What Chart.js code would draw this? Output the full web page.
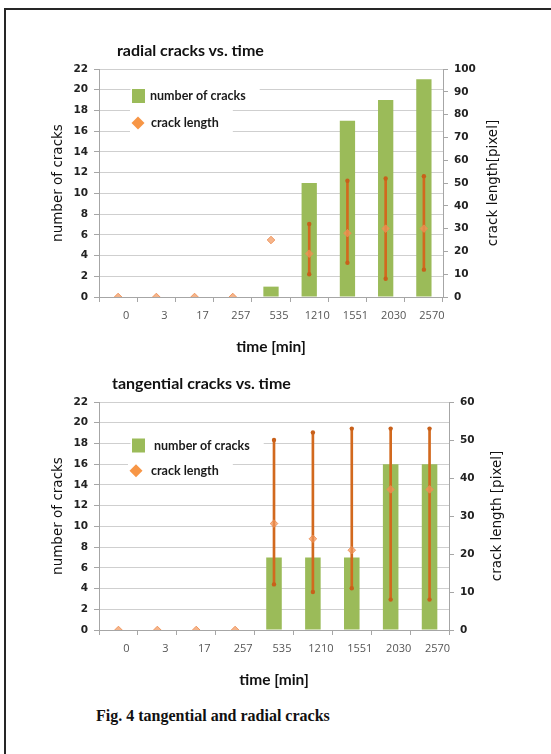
<!DOCTYPE html>
<html>
<head>
<meta charset="utf-8">
<script src="https://cdn.jsdelivr.net/npm/chart.js@4.4.0/dist/chart.umd.min.js"></script>
<style>
  body { margin: 0; background: #fff; width: 551px; height: 754px; overflow: hidden; position: relative; }
  .frame { position: absolute; left: 4px; top: 8px; width: 640px; height: 820px; border: 2px solid #262626; }
  canvas { position: absolute; left: 0; }
  #radial { top: 30px; }
  #tangential { top: 370px; }
  .title { position: absolute; font: bold 16px Lato; color: #111; white-space: nowrap; line-height: 18px; }
  .caption { position: absolute; left: 96px; top: 706px; font: bold 16px "Liberation Serif"; color: #111; white-space: nowrap; line-height: 19px; }
</style>
</head>
<body>
<div class="frame"></div>
<canvas id="radial" width="551" height="330"></canvas>
<canvas id="tangential" width="551" height="323"></canvas>
<div class="title" style="left:117px;top:41px;">radial cracks vs. time</div>
<div class="title" style="left:112px;top:374px;">tangential cracks vs. time</div>
<div class="caption">Fig. 4 tangential and radial cracks</div>

<script>
const times = ["0", "3", "17", "257", "535", "1210", "1551", "2030", "2570"];

const radialCount = [0, 0, 0, 0, 1, 11, 17, 19, 21];
const radialLength = [0, 0, 0, 0, 25, 19, 28, 30, 30];
const radialLengthMax = [null, null, null, null, null, 32, 51, 52, 53];
const radialLengthMin = [null, null, null, null, null, 10, 15, 8, 12];

const tangCount = [0, 0, 0, 0, 7, 7, 7, 16, 16];
const tangLength = [0, 0, 0, 0, 28, 24, 21, 37, 37];
const tangLengthMax = [null, null, null, null, 50, 52, 53, 53, 53];
const tangLengthMin = [null, null, null, null, 12, 10, 11, 8, 8];

const GREEN = "#9BBB59";
const ORANGE = "#F79646";
const ERR = "#D2691E";
const AXIS = "#a6a6a6";
const GRID = "#cfcfcf";

// legend drawn inside the plot, with white boxes hiding the grid behind it
const boxLegend = {
  id: "boxLegend",
  beforeDatasetsDraw(chart, args, opts) {
    const { ctx, chartArea } = chart;
    ctx.save();
    ctx.font = "bold 12.5px Lato";
    ctx.textBaseline = "middle";
    opts.items.forEach((it) => {
      const x = chartArea.left + it.dx;
      const y = chartArea.top + it.dy;
      const tx = chartArea.left + it.tdx;
      const w = ctx.measureText(it.text).width;
      ctx.fillStyle = "#fff";
      ctx.fillRect(x - 8, y - 13, tx - x + 8 + w + 14, 26);
      ctx.fillStyle = it.color;
      if (it.kind === "box") {
        ctx.fillRect(x - 6.5, y - 7, 13, 14);
      } else {
        ctx.beginPath();
        ctx.moveTo(x, y - 6.5);
        ctx.lineTo(x + 6.5, y);
        ctx.lineTo(x, y + 6.5);
        ctx.lineTo(x - 6.5, y);
        ctx.closePath();
        ctx.fill();
      }
      ctx.fillStyle = "#1a1a1a";
      ctx.fillText(it.text, tx, y);
    });
    ctx.restore();
  },
  afterDraw(chart, args, opts) {
    // right axis title reads bottom-to-top, like the left one
    const { ctx, chartArea } = chart;
    const s = chart.scales.y2;
    ctx.save();
    ctx.font = "13.5px 'DejaVu Sans'";
    ctx.fillStyle = "#111";
    ctx.textAlign = "center";
    ctx.textBaseline = "middle";
    ctx.translate(s.right - 8, (chartArea.top + chartArea.bottom) / 2);
    ctx.rotate(-Math.PI / 2);
    ctx.fillText(opts.rightTitle, 0, 0);
    ctx.restore();
  },
};

function buildChart(id, o) {
  const errBars = o.min.map((v, i) => (v == null ? null : [v, o.max[i]]));
  return new Chart(document.getElementById(id), {
    type: "bar",
    data: {
      labels: times,
      datasets: [
        {
          type: "line",
          label: "crack length",
          data: o.length,
          yAxisID: "y2",
          showLine: false,
          pointStyle: "rectRot",
          pointRadius: 3.8,
          pointBackgroundColor: "rgba(242,150,90,0.7)",
          pointBorderColor: "rgba(236,140,80,0.85)",
          pointBorderWidth: 1,
          order: 1,
        },
        {
          type: "line",
          data: o.max,
          yAxisID: "y2",
          showLine: false,
          pointRadius: 2.2,
          pointBackgroundColor: "#C8601A",
          pointBorderWidth: 0,
          order: 2,
        },
        {
          type: "line",
          data: o.min,
          yAxisID: "y2",
          showLine: false,
          pointRadius: 2.2,
          pointBackgroundColor: "#C8601A",
          pointBorderWidth: 0,
          order: 2,
        },
        {
          type: "bar",
          data: errBars,
          yAxisID: "y2",
          barThickness: 2,
          backgroundColor: ERR,
          grouped: false,
          order: 3,
        },
        {
          type: "bar",
          label: "number of cracks",
          data: o.count,
          yAxisID: "y",
          backgroundColor: GREEN,
          barPercentage: 0.4,
          categoryPercentage: 1,
          grouped: false,
          order: 4,
        },
      ],
    },
    options: {
      responsive: false,
      animation: false,
      layout: { padding: o.padding },
      plugins: {
        legend: { display: false },
        tooltip: { enabled: false },
        boxLegend: { items: o.legend, rightTitle: o.rightTitle },
      },
      scales: {
        x: {
          offset: true,
          grid: { offset: true, drawOnChartArea: false, tickLength: 5, tickColor: AXIS },
          border: { color: AXIS },
          ticks: {
            font: { family: "Open Sans", size: 11 },
            color: "#555",
            padding: 7,
            labelOffset: 8,
            maxRotation: 0,
            autoSkip: false,
          },
          title: {
            display: true,
            text: "time [min]",
            font: { family: "Lato", weight: "bold", size: 15.5 },
            color: "#111",
            padding: 0,
          },
          afterFit: (s) => { s.height = 59; },
        },
        y: {
          position: "left",
          min: 0,
          max: 22,
          ticks: {
            stepSize: 2,
            font: { family: "DejaVu Sans", weight: "bold", size: 10.5 },
            color: "#222",
            padding: 6,
          },
          grid: { color: GRID, tickColor: AXIS, tickLength: 5 },
          border: { color: AXIS },
          title: {
            display: true,
            text: "number of cracks",
            font: { family: "DejaVu Sans", size: 13.5 },
            color: "#111",
            padding: 0,
          },
          afterFit: (s) => { s.width = 49; },
        },
        y2: {
          position: "right",
          min: 0,
          max: o.lengthTop,
          ticks: {
            stepSize: 10,
            font: { family: "DejaVu Sans", weight: "bold", size: 10.5 },
            color: "#222",
            padding: 6,
          },
          grid: { drawOnChartArea: false, tickColor: AXIS, tickLength: 5 },
          border: { color: AXIS },
          afterFit: (s) => { s.width = o.rightWidth; },
        },
      },
    },
    plugins: [boxLegend],
  });
}

buildChart("radial", {
  count: radialCount,
  length: radialLength,
  max: radialLengthMax,
  min: radialLengthMin,
  lengthTop: 100,
  rightTitle: "crack length[pixel]",
  rightWidth: 58,
  padding: { left: 50, right: 50, top: 39, bottom: 4 },
  legend: [
    { kind: "box", color: GREEN, text: "number of cracks", dx: 39.5, dy: 27, tdx: 51 },
    { kind: "diamond", color: ORANGE, text: "crack length", dx: 39, dy: 54, tdx: 52 },
  ],
});

buildChart("tangential", {
  count: tangCount,
  length: tangLength,
  max: tangLengthMax,
  min: tangLengthMin,
  lengthTop: 60,
  rightTitle: "crack length [pixel]",
  rightWidth: 56,
  padding: { left: 50, right: 46, top: 32, bottom: 4 },
  legend: [
    { kind: "box", color: GREEN, text: "number of cracks", dx: 39.5, dy: 43.5, tdx: 55 },
    { kind: "diamond", color: ORANGE, text: "crack length", dx: 37, dy: 68.7, tdx: 52 },
  ],
});
</script>
</body>
</html>
